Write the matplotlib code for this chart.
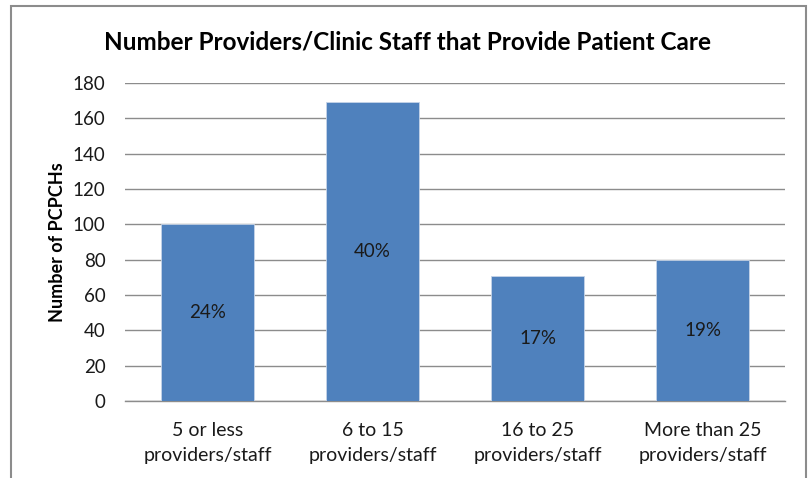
import matplotlib
matplotlib.use("Agg")
import matplotlib.pyplot as plt
from matplotlib.patches import Rectangle

categories = ["5 or less\nproviders/staff", "6 to 15\nproviders/staff",
              "16 to 25\nproviders/staff", "More than 25\nproviders/staff"]
values = [100, 169, 71, 80]
pct_labels = ["24%", "40%", "17%", "19%"]
yticks = [0, 20, 40, 60, 80, 100, 120, 140, 160, 180]

plt.rcParams['font.family'] = ['Lato', 'DejaVu Sans']

fig = plt.figure(figsize=(8.09, 4.78), dpi=100)
ax = fig.add_axes([125/809, (478-401)/478, 660/809, (401-83)/478])

x = list(range(len(categories)))
bars = ax.bar(x, values, width=0.565, color="#4F81BD", edgecolor="#C6D4E8",
              linewidth=0.6, zorder=3)
for xi, v, lab in zip(x, values, pct_labels):
    ax.text(xi, v/2, lab, ha="center", va="center", fontsize=13.5, color="#1a1a1a", zorder=4)

ax.set_xlim(-0.5, 3.5)
ax.set_ylim(0, 180)
ax.set_yticks(yticks)
ax.set_xticks(x)
ax.set_xticklabels(categories, fontsize=14, linespacing=1.55, color="#1a1a1a")
ax.tick_params(axis='y', length=0, pad=14, labelsize=13.5, labelcolor="#1a1a1a")
ax.tick_params(axis='x', length=0, pad=15)
ax.yaxis.grid(True, color="#8c8c8c", linewidth=1.0, zorder=0)
ax.set_axisbelow(True)
for s in ["top", "right", "left"]:
    ax.spines[s].set_visible(False)
ax.spines["bottom"].set_color("#8c8c8c")
ax.spines["bottom"].set_linewidth(1.0)

ax.set_ylabel("Number of PCPCHs", fontsize=13, fontweight="bold", labelpad=5)
fig.text(408/809, 1 - 42/478, "Number Providers/Clinic Staff that Provide Patient Care",
         ha="center", va="center", fontsize=17.5, fontweight="bold")

border = Rectangle((11/809, -0.05), (806-11)/809, 1.05 - 6/478 + 0.0,
                   transform=fig.transFigure, fill=False, edgecolor="#8c8c8c",
                   linewidth=1.5)
fig.patches.append(border)

fig.savefig("out.png", dpi=100)
